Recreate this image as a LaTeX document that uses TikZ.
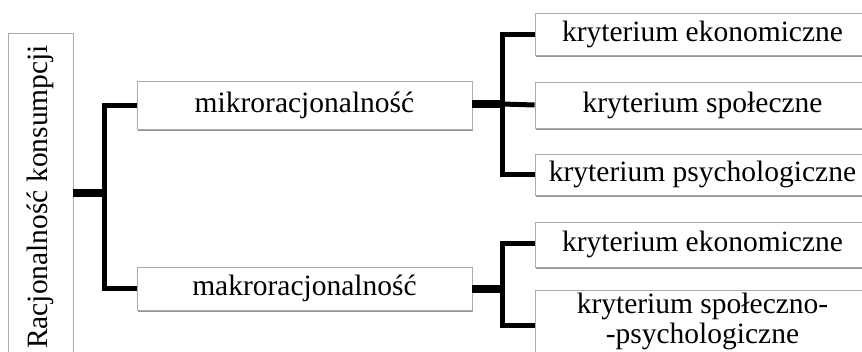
\documentclass[tikz,border=0pt]{standalone}
\usepackage{fontspec}
\setmainfont{Liberation Serif}
\usetikzlibrary{shadows}
\begin{document}
\begin{tikzpicture}[x=1pt,y=-1pt,
  box/.style={draw=gray!65, line width=0.9pt, fill=white, inner sep=0pt,
    font=\fontsize{29.5}{31}\selectfont, align=center,
    drop shadow={shadow xshift=1.2pt, shadow yshift=-2.2pt, fill=gray!85, opacity=1}},
  stub/.style={line width=8pt},
  branch/.style={line width=5pt, line join=miter}]
\useasboundingbox (0,0) rectangle (862,351);
\clip (0,0) rectangle (862,351);

% root box, text running bottom to top
\node[box, minimum width=65pt, minimum height=328pt] (root) at (40.5,197)
  {\rotatebox{90}{Racjonalność konsumpcji}};

% second level
\node[box, minimum width=335pt, minimum height=48pt] (mikro) at (304.5,105) {mikroracjonalność};
\node[box, minimum width=335pt, minimum height=43pt] (makro) at (304.5,288.5) {makroracjonalność};

% criteria
\node[box, minimum width=335pt, minimum height=42pt] (r1) at (702.5,34) {kryterium ekonomiczne};
\node[box, minimum width=335pt, minimum height=46pt] (r2) at (702.5,105) {kryterium społeczne};
\node[box, minimum width=335pt, minimum height=41pt] (r3) at (702.5,174.5) {kryterium psychologiczne};
\node[box, minimum width=335pt, minimum height=45pt] (r4) at (702.5,244.5) {kryterium ekonomiczne};
\node[box, minimum width=335pt, minimum height=62pt,
  font=\fontsize{29.5}{30}\selectfont] (r5) at (702.5,321) {kryterium społeczno-\\-psychologiczne};

% junctions
\coordinate (j0) at (104.5,193);
\coordinate (j1) at (502,104);
\coordinate (j2) at (502,289);

% root to second level
\draw[stub] (root.east |- j0) -- (j0);
\draw[branch] (mikro.west) -| (j0) |- (makro.west);

% mikroracjonalność to criteria
\draw[stub] (mikro.east |- j1) -- (j1);
\draw[branch] (r1.west) -| (j1) |- (r3.west);
\draw[branch] (j1) -- (r2.west);

% makroracjonalność to criteria
\draw[stub] (makro.east |- j2) -- (j2);
\draw[branch] (r4.west |- 0,243) -| (j2) |- (r5.west |- 0,325);
\end{tikzpicture}
\end{document}
